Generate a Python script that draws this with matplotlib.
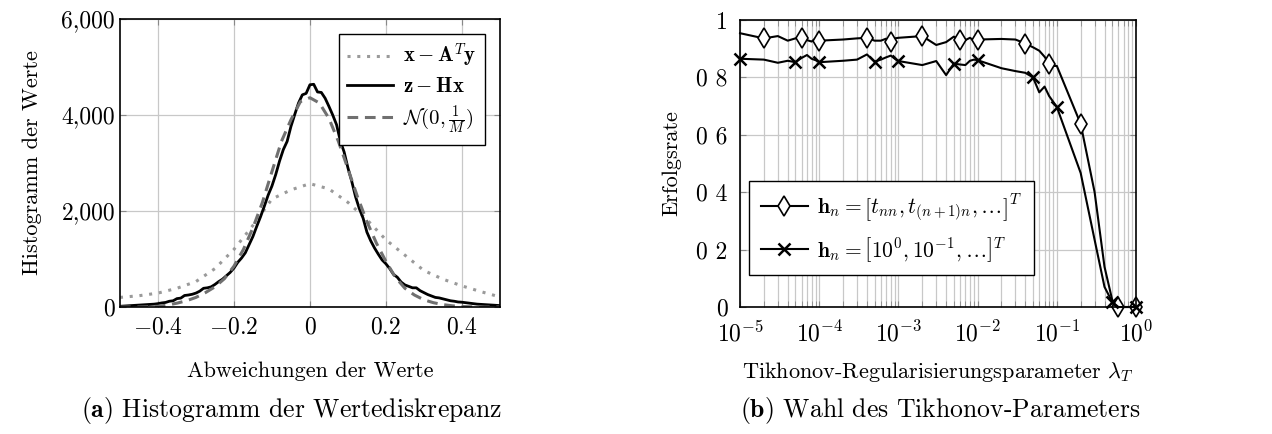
import numpy as np
import matplotlib
matplotlib.use("Agg")
import matplotlib.pyplot as plt
from matplotlib.ticker import FixedLocator, FixedFormatter, LogLocator, NullFormatter

plt.rcParams['font.family'] = 'serif'
plt.rcParams['font.serif'] = ['cmr10']
plt.rcParams['mathtext.fontset'] = 'cm'
plt.rcParams['axes.formatter.use_mathtext'] = True
plt.rcParams['axes.unicode_minus'] = True

########## Data (a): histograms ##########
x_hist = np.round(np.arange(-0.50, 0.5001, 0.01), 2)
z_minus_Hx = [15, 20, 25, 30, 35, 40, 45, 50, 55, 60,
              70, 85, 95, 120, 130, 175, 185, 240, 250, 265,
              290, 330, 390, 400, 420, 470, 530, 580, 650, 720,
              810, 930, 1020, 1130, 1300, 1470, 1680, 1880, 2100, 2330,
              2520, 2760, 3040, 3280, 3450, 3760, 4010, 4250, 4420, 4450,
              4630,
              4640, 4480, 4470, 4350, 4180, 4000, 3800, 3460, 3230, 2900,
              2620, 2300, 2050, 1850, 1560, 1380, 1230, 1100, 980, 900,
              800, 680, 620, 520, 460, 430, 400, 400, 340, 300,
              260, 230, 200, 190, 170, 150, 130, 120, 105, 100,
              90, 80, 70, 60, 55, 50, 45, 40, 35, 30]

x_norm = np.round(np.arange(-0.5, 0.5001, 0.025), 3)
normal_ref = [0, 0, 0, 5, 15, 40, 80, 130, 200, 300,
              420, 590, 850, 1200, 1650, 2180, 2820, 3450, 3900, 4280,
              4360,
              4250, 3930, 3450, 2880, 2300, 1780, 1330, 950, 620, 390,
              250, 150, 90, 50, 25, 10, 5, 0, 0, 0]

x_coarse = np.round(np.arange(-0.5, 0.5001, 0.05), 2)
x_minus_ATy = [200, 235, 290, 390, 530, 800, 1200, 1700, 2250, 2440,
               2570,
               2460, 2180, 1820, 1400, 1080, 760, 580, 440, 320, 210]

########## Data (b): Tikhonov sweep ##########
lam = [m * 10.0 ** k for k in range(-5, 0) for m in range(1, 10)] + [1.0]

rate_tnn = [0.954, 0.936, 0.944, 0.928, 0.936, 0.936, 0.930, 0.925, 0.936,
            0.928, 0.932, 0.936, 0.938, 0.928, 0.928, 0.935, 0.925, 0.936,
            0.938, 0.944, 0.913, 0.923, 0.942, 0.932, 0.930, 0.938, 0.928,
            0.932, 0.934, 0.932, 0.918, 0.905, 0.893, 0.872, 0.848, 0.840,
            0.840, 0.638, 0.400, 0.140, 0.025, 0.000, 0.000, 0.000, 0.000,
            0.000]
rate_pow = [0.865, 0.862, 0.851, 0.858, 0.853, 0.868, 0.878, 0.865, 0.860,
            0.853, 0.858, 0.862, 0.880, 0.855, 0.862, 0.870, 0.876, 0.865,
            0.857, 0.843, 0.857, 0.808, 0.848, 0.845, 0.843, 0.858, 0.862,
            0.860, 0.832, 0.822, 0.816, 0.800, 0.748, 0.768, 0.735, 0.715,
            0.697, 0.467, 0.234, 0.070, 0.018, 0.000, 0.000, 0.000, 0.000,
            0.000]
marks_tnn = [1, 5, 9, 12, 16, 19, 23, 27, 30, 34, 37, 41, 45]
marks_pow = [0, 4, 9, 13, 18, 22, 27, 31, 36, 40, 45]

y_ticks_b = [0, 0.2, 0.4, 0.6, 0.8, 1.0]
y_labels_b = ['0', '0 2', '0 4', '0 6', '0 8', '1']

############### Plot ###############
fig = plt.figure(figsize=(12.72, 4.34), dpi=100)
ax_a = fig.add_axes([0.0943, 0.2926, 0.2987, 0.6636])
ax_b = fig.add_axes([0.5818, 0.2926, 0.3113, 0.6613])

grid_kw = dict(color='#c8c8c8', linewidth=0.9)
fs_lab = 16
fs_tick = 17
fs_cap = 18.5

# (a)
ax_a.plot(x_coarse, x_minus_ATy, color='#9a9a9a', linestyle=(0, (1, 2.2)),
          linewidth=2.2, label=r'$\mathbf{x}-\mathbf{A}^T\mathbf{y}$')
ax_a.plot(x_hist, z_minus_Hx, color='black', linewidth=2.0,
          label=r'$\mathbf{z}-\mathbf{Hx}$')
ax_a.plot(x_norm, normal_ref, color='#707070', linestyle=(0, (3.5, 2.2)),
          linewidth=2.2, label=r'$\mathcal{N}(0,\frac{1}{M})$')
ax_a.set_xlim(-0.5, 0.5)
ax_a.set_ylim(0, 6000)
ax_a.set_xticks([-0.4, -0.2, 0, 0.2, 0.4])
ax_a.set_xticklabels([r'$-0.4$', r'$-0.2$', r'$0$', r'$0.2$', r'$0.4$'])
ax_a.set_yticks([0, 2000, 4000, 6000])
ax_a.set_yticklabels(['0', '2,000', '4,000', '6,000'])
ax_a.grid(True, **grid_kw)
ax_a.set_axisbelow(True)
ax_a.set_xlabel('Abweichungen der Werte', fontsize=fs_lab, labelpad=16)
ax_a.set_ylabel('Histogramm der Werte', fontsize=fs_lab, labelpad=14)
leg_a = ax_a.legend(loc='upper right', fontsize=15, frameon=True, fancybox=False,
                    edgecolor='black', framealpha=1, handlelength=2.2,
                    borderaxespad=0.7, labelspacing=0.35, handletextpad=0.5)
leg_a.get_frame().set_linewidth(1.0)

# (b)
ax_b.set_xscale('log')
ax_b.plot(lam, rate_tnn, color='black', linewidth=1.5, marker='d',
          markersize=10, markerfacecolor='white', markeredgecolor='black',
          markeredgewidth=1.2, markevery=marks_tnn, clip_on=False,
          label=r'$\mathbf{h}_n = \left[t_{nn}, t_{(n+1)n}, \ldots\right]^T$')
ax_b.plot(lam, rate_pow, color='black', linewidth=1.5, marker='x',
          markersize=8, markeredgewidth=1.8, markevery=marks_pow, clip_on=False,
          label=r'$\mathbf{h}_n = \left[10^0, 10^{-1}, \ldots\right]^T$')
ax_b.set_xlim(1e-5, 1)
ax_b.set_ylim(0, 1)
ax_b.xaxis.set_major_locator(LogLocator(base=10, numticks=10))
ax_b.xaxis.set_minor_locator(LogLocator(base=10, subs=np.arange(2, 10), numticks=10))
ax_b.xaxis.set_minor_formatter(NullFormatter())
ax_b.yaxis.set_major_locator(FixedLocator(y_ticks_b))
ax_b.yaxis.set_major_formatter(FixedFormatter(y_labels_b))
ax_b.grid(True, which='both', axis='x', **grid_kw)
ax_b.grid(True, which='major', axis='y', **grid_kw)
ax_b.set_axisbelow(True)
ax_b.set_xlabel(r'Tikhonov-Regularisierungsparameter $\lambda_T$', fontsize=fs_lab, labelpad=10)
ax_b.set_ylabel('Erfolgsrate', fontsize=fs_lab, labelpad=11)
leg_b = ax_b.legend(loc='lower left', bbox_to_anchor=(0.022, 0.11), fontsize=15.5,
                    frameon=True, fancybox=False, edgecolor='black', framealpha=1,
                    handlelength=2.2, borderaxespad=0.0, labelspacing=0.5,
                    handletextpad=0.4, borderpad=0.55)
leg_b.get_frame().set_linewidth(1.0)

for ax in (ax_a, ax_b):
    ax.tick_params(axis='both', which='both', direction='in', labelsize=fs_tick,
                   top=True, right=True, length=4, color='#888888')
    ax.tick_params(axis='x', pad=7)
    for sp in ax.spines.values():
        sp.set_linewidth(1.2)
ax_b.tick_params(axis='x', pad=10)
ax_b.tick_params(axis='y', pad=9)

fig.text(0.229, 0.055, r'$\mathbf{(a)}$ Histogramm der Wertediskrepanz', fontsize=fs_cap,
         ha='center', va='center')
fig.text(0.739, 0.055, r'$\mathbf{(b)}$ Wahl des Tikhonov-Parameters', fontsize=fs_cap,
         ha='center', va='center')

plt.savefig('out.png', dpi=100)
